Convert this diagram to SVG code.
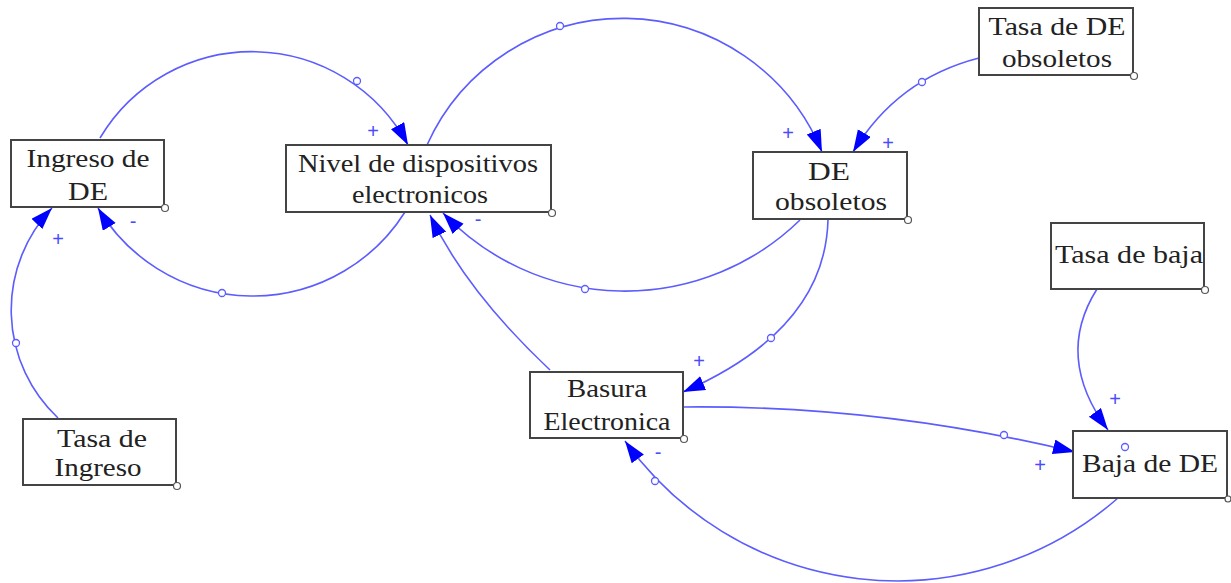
<svg xmlns="http://www.w3.org/2000/svg" width="1231" height="583" viewBox="0 0 1231 583">
<style>
.box{fill:#fff;stroke:#444;stroke-width:2}
.lbl{font-family:"Liberation Serif","Times New Roman",serif;font-size:25px;fill:#222;text-anchor:middle}
.corner{fill:#fff;stroke:#555;stroke-width:1.2}
.link{fill:none;stroke:#5c5cff;stroke-width:1.6}
.handle{fill:#fff;stroke:#5c5cff;stroke-width:1.3}
.sign{font-family:"Liberation Sans",Arial,sans-serif;font-size:20px;fill:#4a4aff;text-anchor:middle;dominant-baseline:central}
</style>
<defs>
<marker id="arr" markerUnits="userSpaceOnUse" markerWidth="24" markerHeight="16" refX="22" refY="7.5" orient="auto">
<path d="M0,0 L22,7.5 L0,15 Z" fill="#0000ff"/>
</marker>
</defs>
<rect width="1231" height="583" fill="#fff"/>
<g id="connectors">
<path class="link" marker-end="url(#arr)" d="M100,138 A177,177 0 0,1 408,145"/>
<path class="link" marker-end="url(#arr)" d="M427,145 A215,215 0 0,1 822,152"/>
<path class="link" marker-end="url(#arr)" d="M979,58 Q897,79 853,152"/>
<path class="link" marker-end="url(#arr)" d="M800,220 A251,251 0 0,1 443,213"/>
<path class="link" marker-end="url(#arr)" d="M828,220 Q825,330 683,392"/>
<path class="link" marker-end="url(#arr)" d="M550,370 Q466,291 430,215"/>
<path class="link" marker-end="url(#arr)" d="M405,212 A180,180 0 0,1 98,208"/>
<path class="link" marker-end="url(#arr)" d="M58,418 A148,148 0 0,1 52,208"/>
<path class="link" marker-end="url(#arr)" d="M684,407 Q880,405 1075,452"/>
<path class="link" marker-end="url(#arr)" d="M1118,498 A335,335 0 0,1 625,441"/>
<path class="link" marker-end="url(#arr)" d="M1097,289 Q1054,357 1108,430"/>
<circle class="handle" cx="357" cy="81" r="3.5"/>
<circle class="handle" cx="560" cy="26" r="3.5"/>
<circle class="handle" cx="922" cy="82" r="3.5"/>
<circle class="handle" cx="585" cy="289" r="3.5"/>
<circle class="handle" cx="771" cy="338" r="3.5"/>
<circle class="handle" cx="222" cy="293" r="3.5"/>
<circle class="handle" cx="16" cy="343" r="3.5"/>
<circle class="handle" cx="1004" cy="435" r="3.5"/>
<circle class="handle" cx="655" cy="481" r="3.5"/>
<text class="sign" x="373" y="131">+</text>
<text class="sign" x="133" y="221">-</text>
<text class="sign" x="58" y="239">+</text>
<text class="sign" x="788" y="133">+</text>
<text class="sign" x="888" y="143">+</text>
<text class="sign" x="478" y="219">-</text>
<text class="sign" x="699" y="361">+</text>
<text class="sign" x="658" y="452">-</text>
<text class="sign" x="1040" y="465">+</text>
<text class="sign" x="1115" y="399">+</text>
</g>
<g id="node-ingreso">
<rect class="box" x="11" y="140" width="153" height="67"/>
<text class="lbl" x="88" y="167" textLength="123" lengthAdjust="spacingAndGlyphs">Ingreso de</text>
<text class="lbl" x="88" y="200" textLength="40" lengthAdjust="spacingAndGlyphs">DE</text>
<circle class="corner" cx="165" cy="208" r="3.5"/>
</g>
<g id="node-nivel">
<rect class="box" x="286" y="145" width="265" height="67"/>
<text class="lbl" x="418" y="172" textLength="240" lengthAdjust="spacingAndGlyphs">Nivel de dispositivos</text>
<text class="lbl" x="420" y="203" textLength="136" lengthAdjust="spacingAndGlyphs">electronicos</text>
<circle class="corner" cx="552" cy="213" r="3.5"/>
</g>
<g id="node-obsoletos">
<rect class="box" x="753" y="152" width="154" height="67"/>
<text class="lbl" x="829" y="180" textLength="42" lengthAdjust="spacingAndGlyphs">DE</text>
<text class="lbl" x="831" y="210" textLength="112" lengthAdjust="spacingAndGlyphs">obsoletos</text>
<circle class="corner" cx="908" cy="220" r="3.5"/>
</g>
<g id="node-tasa-obsoletos">
<rect class="box" x="979" y="8" width="154" height="67"/>
<text class="lbl" x="1057" y="35" textLength="137" lengthAdjust="spacingAndGlyphs">Tasa de DE</text>
<text class="lbl" x="1057" y="67" textLength="110" lengthAdjust="spacingAndGlyphs">obsoletos</text>
<circle class="corner" cx="1134" cy="76" r="3.5"/>
</g>
<g id="node-tasa-ingreso">
<rect class="box" x="23" y="419" width="153" height="66"/>
<text class="lbl" x="102" y="447" textLength="90" lengthAdjust="spacingAndGlyphs">Tasa de</text>
<text class="lbl" x="98" y="476" textLength="87" lengthAdjust="spacingAndGlyphs">Ingreso</text>
<circle class="corner" cx="177" cy="486" r="3.5"/>
</g>
<g id="node-basura">
<rect class="box" x="530" y="372" width="153" height="66"/>
<text class="lbl" x="607" y="397" textLength="80" lengthAdjust="spacingAndGlyphs">Basura</text>
<text class="lbl" x="607" y="430" textLength="127" lengthAdjust="spacingAndGlyphs">Electronica</text>
<circle class="corner" cx="684" cy="439" r="3.5"/>
</g>
<g id="node-tasa-baja">
<rect class="box" x="1051" y="223" width="153" height="66"/>
<text class="lbl" x="1129" y="263" textLength="148" lengthAdjust="spacingAndGlyphs">Tasa de baja</text>
<circle class="corner" cx="1205" cy="290" r="3.5"/>
</g>
<g id="node-baja">
<rect class="box" x="1073" y="431" width="154" height="67"/>
<text class="lbl" x="1150" y="472" textLength="136" lengthAdjust="spacingAndGlyphs">Baja de DE</text>
<circle class="handle" cx="1125" cy="447" r="3.5"/>
<circle class="corner" cx="1228" cy="499" r="3"/>
</g>
</svg>
